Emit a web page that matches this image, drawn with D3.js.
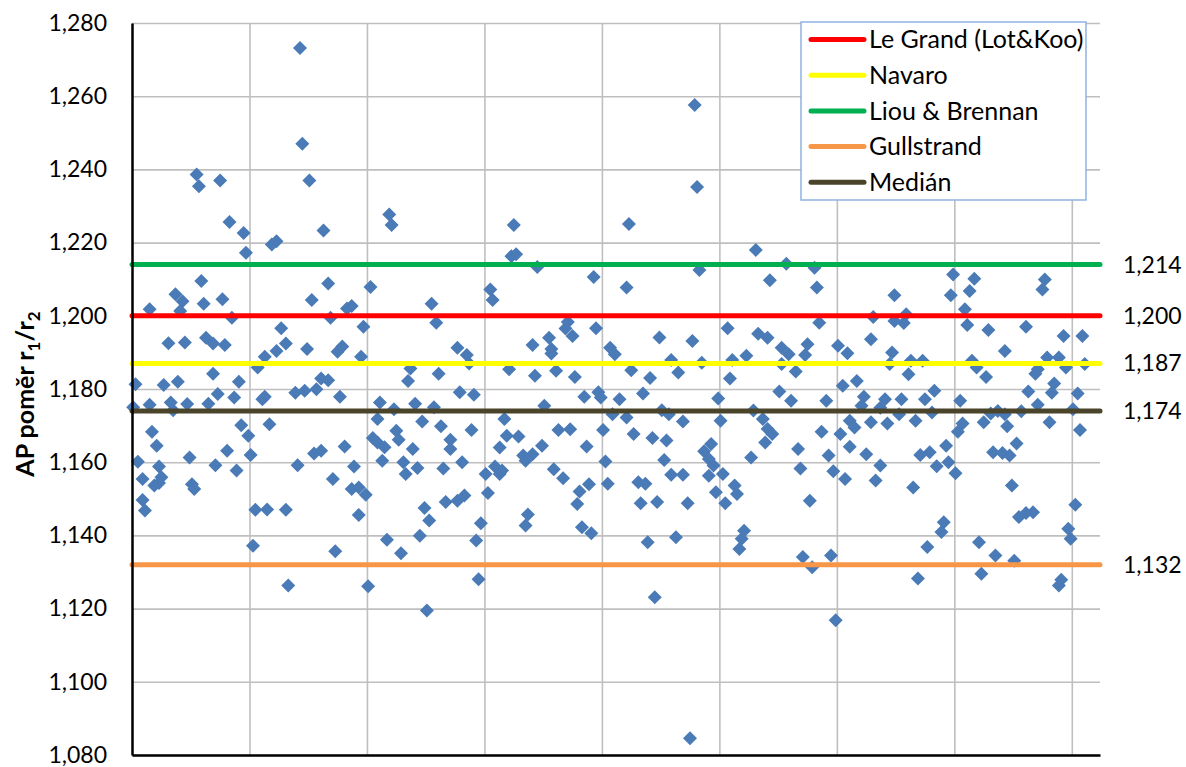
<!DOCTYPE html>
<html>
<head>
<meta charset="utf-8">
<script src="https://cdn.jsdelivr.net/npm/d3@7"></script>
<style>
  body { margin: 0; background: #fff; }
  text { font-family: Lato, "Liberation Sans", sans-serif; fill: #000; }
</style>
</head>
<body>
<svg id="chart" width="1186" height="767"></svg>
<script>
// AP ratio r1/r2 per measured eye: [sample number, ratio]
const ratios = [
  [1,1.1750],[2,1.1813],[3,1.1601],[5,1.1554],[5,1.1497],[6,1.1468],[8,1.2018],[8,1.1757],[9,1.1683],[10,1.1536],
  [11,1.1645],[12,1.1588],[12,1.1543],[13,1.1559],[14,1.1811],[16,1.1925],[17,1.1763],[18,1.1742],[19,1.2059],[20,1.1820],
  [21,1.2013],[22,1.2040],[23,1.1927],[24,1.1759],[25,1.1613],[26,1.1540],[27,1.1527],[28,1.2386],[29,1.2354],[30,1.2095],
  [31,1.2033],[32,1.1940],[33,1.1760],[35,1.1924],[35,1.1842],[36,1.1592],[37,1.1786],[38,1.2370],[39,1.2045],[40,1.1920],
  [41,1.1631],[42,1.2256],[43,1.1995],[44,1.1777],[45,1.1577],[46,1.1820],[47,1.1701],[48,1.2226],[49,1.2172],[50,1.1672],
  [51,1.1620],[52,1.1372],[53,1.1470],[54,1.1859],[56,1.1772],[57,1.1779],[57,1.1888],[58,1.1471],[59,1.1704],[60,1.2195],
  [62,1.2204],[62,1.1904],[64,1.1966],[66,1.1924],[66,1.1470],[67,1.1263],
  [70,1.1790],[71,1.1592],[72,1.2732],[73,1.2470],[74,1.1795],[75,1.1909],[76,1.2370],[77,1.2043],[78,1.1624],[79,1.1799],
  [81,1.1829],[81,1.1631],[82,1.2233],[84,1.2088],[84,1.1824],[85,1.1995],[86,1.1554],[87,1.1357],[88,1.1902],[89,1.1779],
  [90,1.1916],[91,1.1643],[92,1.2020],[94,1.2027],[94,1.1527],[95,1.1588],[97,1.1531],[97,1.1456],[98,1.1888],[99,1.1970],
  [100,1.1511],[101,1.1261],[102,1.2079],[103,1.1666],[105,1.1718],[105,1.1654],[106,1.1763],[107,1.1604],[108,1.1641],[109,1.1388],
  [110,1.2277],[111,1.2248],[112,1.1745],[113,1.1686],[114,1.1661],[115,1.1351],[116,1.1600],[117,1.1568],[118,1.1822],[119,1.1856],
  [120,1.1636],[121,1.1760],[122,1.1584],[123,1.1399],[124,1.1711],[125,1.1475],[126,1.1195],[127,1.1441],[128,1.2033],[129,1.1750],
  [130,1.1981],[131,1.1842],[132,1.1698],[133,1.1583],[134,1.1491],[136,1.1661],[136,1.1636],
  [139,1.1913],[139,1.1495],[140,1.1791],[141,1.1600],[142,1.1509],[143,1.1893],[144,1.1870],[145,1.1688],[146,1.1784],[147,1.1386],
  [148,1.1280],[149,1.1433],[151,1.1568],[152,1.1516],[153,1.2072],[154,1.2043],[155,1.1588],[157,1.1640],[157,1.1568],[158,1.1577],
  [159,1.1718],[160,1.1672],[161,1.1854],[162,1.2163],[163,1.2248],[164,1.2168],[165,1.1670],[167,1.1618],[168,1.1604],[168,1.1427],
  [169,1.1457],[171,1.1920],[171,1.1622],[172,1.1836],[173,1.2133],[175,1.1645],[176,1.1754],[178,1.1940],[179,1.1909],[179,1.1897],
  [180,1.1581],[181,1.1850],[182,1.1688],[184,1.1556],[185,1.1965],[186,1.1983],[187,1.1690],[188,1.1945],[189,1.1833],[190,1.1486],
  [191,1.1520],[192,1.1422],[193,1.1779],[194,1.1643],[195,1.1540],[196,1.1406],[197,1.2106],[198,1.1966],[199,1.1791],[200,1.1777],
  [201,1.1688],[202,1.1602],[203,1.1541],[204,1.1913],[205,1.1731],[206,1.1895],
  [208,1.1772],[211,1.2077],[211,1.1722],[212,1.2251],[213,1.1851],[214,1.1677],[216,1.1545],[217,1.1488],[218,1.1788],[219,1.1541],
  [220,1.1381],[221,1.1830],[222,1.1666],[223,1.1231],[224,1.1491],[225,1.1941],[226,1.1742],[227,1.1606],[228,1.1659],[229,1.1731],
  [230,1.1879],[230,1.1566],[232,1.1395],[233,1.1845],[235,1.1711],[235,1.1566],[237,1.1488],[238,1.0846],[239,1.1931],[240,1.2576],
  [241,1.2352],[242,1.2125],[243,1.1872],[244,1.1630],[246,1.1609],[246,1.1563],[247,1.1650],[248,1.1591],[249,1.1518],[250,1.1774],
  [251,1.1713],[252,1.1568],[253,1.1488],[254,1.1966],[255,1.1829],[256,1.1879],[257,1.1536],[258,1.1513],[259,1.1363],[260,1.1391],
  [261,1.1413],[262,1.1891],[264,1.1613],[265,1.1741],[266,1.2180],[267,1.1951],[269,1.1718],[270,1.1654],[271,1.1940],[271,1.1691],
  [272,1.2097],[273,1.1677],
  [276,1.1793],[277,1.1913],[277,1.1868],[279,1.2142],[280,1.1895],[281,1.1768],[283,1.1848],[284,1.1636],[285,1.1583],[286,1.1341],
  [287,1.1893],[288,1.1922],[289,1.1495],[290,1.1313],[291,1.2131],[292,1.2077],[293,1.1981],[294,1.1683],[296,1.1768],[297,1.1618],
  [298,1.1345],[299,1.1575],[300,1.1168],[301,1.1918],[302,1.1677],[303,1.1809],[304,1.1554],[305,1.1898],[306,1.1713],[306,1.1642],
  [308,1.1695],[309,1.1822],[311,1.1754],[312,1.1779],[313,1.1622],[315,1.1936],[315,1.1709],[316,1.1997],[317,1.1550],[319,1.1749],
  [319,1.1591],[321,1.1772],[322,1.1706],[323,1.1868],[324,1.1900],[325,1.2056],[325,1.1986],[327,1.1731],[328,1.1772],[329,1.1980],
  [330,1.2004],[331,1.1840],[332,1.1877],[333,1.1531],[334,1.1713],[335,1.1282],[336,1.1620],[337,1.1877],[338,1.1772],[339,1.1368],
  [340,1.1627],[341,1.1736],[342,1.1795],[343,1.1589],
  [345,1.1409],[346,1.1436],[347,1.1645],[348,1.1600],[349,1.2056],[350,1.2113],[351,1.1570],[352,1.1683],[353,1.1768],[354,1.1706],
  [355,1.2018],[356,1.1975],[357,1.2068],[358,1.1877],[359,1.2101],[360,1.1859],[361,1.1381],[362,1.1295],[363,1.1709],[364,1.1833],
  [365,1.1961],[366,1.1733],[367,1.1627],[368,1.1345],[369,1.1740],[371,1.1625],[372,1.1904],[372,1.1731],[373,1.1698],[374,1.1618],
  [375,1.1536],[376,1.1331],[377,1.1651],[378,1.1450],[379,1.1739],[381,1.1970],[381,1.1461],[382,1.1793],[384,1.1463],[385,1.1842],
  [386,1.1854],[386,1.1757],[388,1.2072],[389,1.2099],[390,1.1886],[391,1.1709],[392,1.1790],[393,1.1815],[395,1.1886],[395,1.1263],
  [396,1.1279],[397,1.1945],[398,1.1859],[399,1.1418],[400,1.1391],[401,1.1745],[402,1.1484],[403,1.1788],[404,1.1688],[405,1.1945],
  [406,1.1868]
];
const sampleCount = 412;

// Reference ratios from the eye models and the median of the measured set
const refNames  = ["Le Grand (Lot&Koo)", "Navaro", "Liou & Brennan", "Gullstrand", "Medián"];
const refValues = [1.200, 1.187, 1.214, 1.132, 1.174];

const yDomain = [1.08, 1.28];
const xGridTicks = [50, 100, 150, 200, 250, 300, 350, 400];
const yTitle = "AP poměr r";

// styling
const refColors = ["#FF0000", "#FFFF00", "#00B050", "#F79646", "#4A452A"];
const markerColor = "#4A7BB7";

const svg = d3.select("#chart");
const plot = { left: 132, right: 1100, top: 23, bottom: 755 };

const x = d3.scaleLinear().domain([0, sampleCount]).range([plot.left, plot.right]);
const y = d3.scaleLinear().domain(yDomain).range([plot.bottom, plot.top]);

const cz = d3.formatLocale({ decimal: ",", thousands: "\u00a0", grouping: [3], currency: ["", ""] });
const fmt = cz.format(".3f");

// horizontal gridlines
svg.append("g")
  .attr("transform", `translate(${plot.left},0)`)
  .call(d3.axisLeft(y).ticks(10).tickSize(-(plot.right - plot.left)).tickFormat(""))
  .call(g => g.select(".domain").remove())
  .call(g => g.selectAll("line").attr("stroke", "#BFBFBF").attr("stroke-width", 1.6));

// vertical gridlines every 50 samples
svg.append("g")
  .attr("transform", `translate(0,${plot.bottom})`)
  .call(d3.axisBottom(x).tickValues(xGridTicks).tickSize(-(plot.bottom - plot.top)).tickFormat(""))
  .call(g => g.select(".domain").remove())
  .call(g => g.selectAll("line").attr("stroke", "#BFBFBF").attr("stroke-width", 1.6));

// measured ratios as diamonds
const r = 7;
const diamond = `M0,${-r}L${r},0L0,${r}L${-r},0Z`;
svg.append("g")
  .selectAll("path")
  .data(ratios)
  .join("path")
  .attr("d", diamond)
  .attr("transform", d => `translate(${x(d[0] - 0.5)},${y(d[1])})`)
  .attr("fill", markerColor);

// reference lines
const refData = refNames.map((n, i) => ({ name: n, value: refValues[i], color: refColors[i] }));
svg.append("g")
  .selectAll("line")
  .data(refData)
  .join("line")
  .attr("x1", plot.left)
  .attr("x2", plot.right)
  .attr("y1", d => y(d.value))
  .attr("y2", d => y(d.value))
  .attr("stroke", d => d.color)
  .attr("stroke-width", 5)
  .attr("stroke-linecap", "round");

// value labels for the reference lines
svg.append("g")
  .selectAll("text")
  .data(refData)
  .join("text")
  .attr("x", 1123)
  .attr("y", d => y(d.value))
  .attr("dy", "0.35em")
  .attr("font-size", 23)
  .text(d => fmt(d.value));

// y axis with labels
svg.append("g")
  .attr("transform", `translate(${plot.left},0)`)
  .call(d3.axisLeft(y).ticks(10).tickSize(0).tickPadding(25).tickFormat(fmt))
  .call(g => g.select(".domain").attr("stroke", "#000").attr("stroke-width", 2.5))
  .call(g => g.selectAll("text").attr("font-size", 23).attr("font-family", "Lato, 'Liberation Sans', sans-serif").attr("fill", "#000"));

// x axis line
svg.append("g")
  .attr("transform", `translate(0,${plot.bottom})`)
  .call(d3.axisBottom(x).tickValues([]).tickSizeOuter(0))
  .call(g => g.select(".domain").attr("stroke", "#000").attr("stroke-width", 2.5));

// y axis title
const title = svg.append("text")
  .attr("transform", `translate(34,${(plot.top + plot.bottom) / 2 + 5}) rotate(-90)`)
  .attr("text-anchor", "middle")
  .attr("font-size", 25)
  .attr("font-weight", "bold");
title.append("tspan").text(yTitle);
title.append("tspan").attr("font-size", 17).attr("dy", 6).text("1");
title.append("tspan").attr("dy", -6).text("/r");
title.append("tspan").attr("font-size", 17).attr("dy", 6).text("2");

// legend
const legend = svg.append("g");
legend.append("rect")
  .attr("x", 801).attr("y", 22).attr("width", 285).attr("height", 178)
  .attr("fill", "#fff").attr("stroke", "#8DB3E2").attr("stroke-width", 1.5);
const items = legend.selectAll("g.item")
  .data(refData)
  .join("g")
  .attr("class", "item")
  .attr("transform", (d, i) => `translate(0,${39.5 + i * 35.7})`);
items.append("line")
  .attr("x1", 811).attr("x2", 864)
  .attr("stroke", d => d.color).attr("stroke-width", 5).attr("stroke-linecap", "round");
items.append("text")
  .attr("x", 869).attr("dy", "0.35em").attr("font-size", 25)
  .text(d => d.name);
</script>
</body>
</html>
